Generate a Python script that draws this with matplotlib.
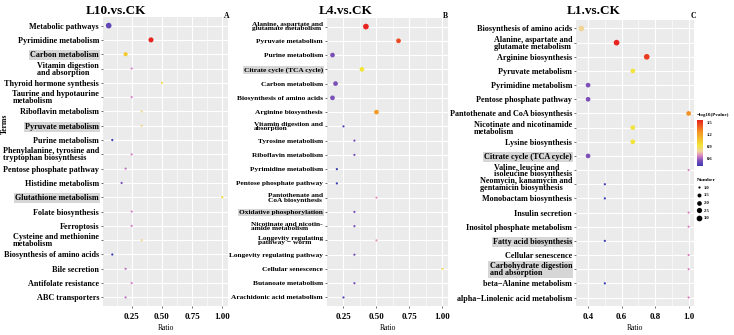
import numpy as np
import matplotlib
matplotlib.use('Agg')
import matplotlib.pyplot as plt
from matplotlib.colors import LinearSegmentedColormap, Normalize
from matplotlib.lines import Line2D

plt.rcParams['font.family'] = ['Liberation Serif', 'DejaVu Serif']
plt.rcParams['font.weight'] = 'bold'

# ---- data -------------------------------------------------------------
terms_a = ['Metabolic pathways', 'Pyrimidine metabolism', 'Carbon metabolism',
           'Vitamin digestion\nand absorption', 'Thyroid hormone synthesis',
           'Taurine and hypotaurine\nmetabolism', 'Riboflavin metabolism',
           'Pyruvate metabolism', 'Purine metabolism',
           'Phenylalanine, tyrosine and\ntryptophan biosynthesis',
           'Pentose phosphate pathway', 'Histidine metabolism',
           'Glutathione metabolism', 'Folate biosynthesis', 'Ferroptosis',
           'Cysteine and methionine\nmetabolism', 'Biosynthesis of amino acids',
           'Bile secretion', 'Antifolate resistance', 'ABC transporters']
ratio_a = [0.06, 0.41, 0.20, 0.25, 0.50, 0.25, 0.333, 0.333, 0.09, 0.25,
           0.20, 0.167, 1.0, 0.25, 0.25, 0.333, 0.09, 0.20, 0.25, 0.20]
logp_a = [0.38, 1.50, 0.95, 0.56, 0.80, 0.56, 0.70, 0.70, 0.30, 0.56,
          0.53, 0.44, 0.86, 0.56, 0.56, 0.70, 0.30, 0.53, 0.56, 0.53]
num_a = [4, 3, 2, 1, 1, 1, 1, 1, 1, 1, 1, 1, 1, 1, 1, 1, 1, 1, 1, 1]
hl_a = ['Carbon metabolism', 'Pyruvate metabolism', 'Glutathione metabolism']

terms_b = ['Alanine, aspartate and\nglutamate metabolism', 'Pyruvate metabolism',
           'Purine metabolism', 'Citrate cycle (TCA cycle)', 'Carbon metabolism',
           'Biosynthesis of amino acids', 'Arginine biosynthesis',
           'Vitamin digestion and\nabsorption', 'Tyrosine metabolism',
           'Riboflavin metabolism', 'Pyrimidine metabolism',
           'Pentose phosphate pathway', 'Pantothenate and\nCoA biosynthesis',
           'Oxidative phosphorylation', 'Nicotinate and nicotin-\namide metabolism',
           'Longevity regulating\npathway \u2212 worm', 'Longevity regulating pathway',
           'Cellular senescence', 'Butanoate metabolism',
           'Arachidonic acid metabolism']
ratio_b = [0.42, 0.667, 0.167, 0.39, 0.19, 0.167, 0.50, 0.25, 0.333, 0.333,
           0.20, 0.20, 0.50, 0.333, 0.333, 0.50, 0.333, 1.0, 0.333, 0.25]
logp_b = [1.50, 1.40, 0.44, 0.84, 0.44, 0.44, 1.16, 0.35, 0.44, 0.44,
          0.30, 0.30, 0.59, 0.44, 0.44, 0.59, 0.44, 0.78, 0.44, 0.35]
num_b = [3, 2, 2, 2, 2, 2, 2, 1, 1, 1, 1, 1, 1, 1, 1, 1, 1, 1, 1, 1]
hl_b = ['Citrate cycle (TCA cycle)', 'Oxidative phosphorylation']

terms_c = ['Biosynthesis of amino acids', 'Alanine, aspartate and\nglutamate metabolism',
           'Arginine biosynthesis', 'Pyruvate metabolism', 'Pyrimidine metabolism',
           'Pentose phosphate pathway', 'Pantothenate and CoA biosynthesis',
           'Nicotinate and nicotinamide\nmetabolism', 'Lysine biosynthesis',
           'Citrate cycle (TCA cycle)', 'Valine, leucine and\nisoleucine biosynthesis',
           'Neomycin, kanamycin and\ngentamicin biosynthesis', 'Monobactam biosynthesis',
           'Insulin secretion', 'Inositol phosphate metabolism',
           'Fatty acid biosynthesis', 'Cellular senescence',
           'Carbohydrate digestion\nand absorption', 'beta\u2212Alanine metabolism',
           'alpha\u2212Linolenic acid metabolism']
ratio_c = [0.36, 0.57, 0.75, 0.667, 0.40, 0.40, 1.0, 0.667, 0.667, 0.40,
           1.0, 0.50, 0.50, 1.0, 1.0, 0.50, 1.0, 1.0, 0.50, 1.0]
logp_c = [0.79, 1.57, 1.50, 0.93, 0.55, 0.55, 1.28, 0.93, 0.93, 0.55,
          0.665, 0.41, 0.41, 0.665, 0.665, 0.41, 0.665, 0.665, 0.41, 0.665]
num_c = [3, 3, 3, 2, 2, 2, 2, 2, 2, 2, 1, 1, 1, 1, 1, 1, 1, 1, 1, 1]
hl_c = ['Citrate cycle (TCA cycle)', 'Fatty acid biosynthesis',
        'Carbohydrate digestion\nand absorption']

titles = ['L10.vs.CK', 'L4.vs.CK', 'L1.vs.CK']
letters = ['A', 'B', 'C']

cmap = LinearSegmentedColormap.from_list('pv', [
    (0.00, '#3c3cb4'), (0.12, '#7e50b8'), (0.22, '#d884c4'),
    (0.32, '#f0d49a'), (0.45, '#f2e438'), (0.75, '#f39224'), (1.00, '#e82320')])

W, H = 734, 335
fig = plt.figure(figsize=(W / 100, H / 100), dpi=100)


def px_axes(l, t, r, b):
    return fig.add_axes([l / W, 1 - b / H, (r - l) / W, (b - t) / H])


def dot_size(n, lo, hi):
    d = 1.6 + 0.5 * 5 * np.sqrt((np.asarray(n, float) - lo) / (hi - lo))
    return d ** 2


def panel(ax, terms, ratio, logp, num, hl, xticks, xlabels, minor, fs):
    n = len(terms)
    y = np.arange(n)[::-1]
    ax.set_facecolor('#ebebeb')
    norm = Normalize(min(logp), max(logp))
    ax.scatter(ratio, y, s=dot_size(num, min(num), max(num)), c=logp,
               cmap=cmap, norm=norm, linewidths=0, zorder=3)
    lo, hi = min(ratio), max(ratio)
    pad = 0.05 * (hi - lo)
    ax.set_xlim(lo - pad, hi + pad)
    ax.set_ylim(-0.6, n - 0.4)
    ax.set_yticks(y)
    ax.set_yticklabels(terms, fontsize=fs, linespacing=0.85)
    ax.set_xticks(xticks)
    ax.set_xticklabels(xlabels, fontsize=6.4)
    ax.set_xticks(minor, minor=True)
    ax.grid(True, which='major', color='white', lw=0.8, zorder=0)
    ax.grid(True, which='minor', axis='x', color='white', lw=0.4, zorder=0)
    ax.set_axisbelow(True)
    for s in ax.spines.values():
        s.set_visible(False)
    ax.tick_params(axis='y', which='major', length=1.6, width=0.5,
                   color='#333333', pad=1.2)
    ax.tick_params(axis='x', which='major', length=1.6, width=0.5,
                   color='#333333', pad=3.2)
    ax.tick_params(axis='x', which='minor', length=0)
    for lab in ax.get_yticklabels():
        lab.set_multialignment('left')
        if lab.get_text() in hl:
            lab.set_bbox(dict(facecolor='#d6d6d6', edgecolor='none', pad=0.8))
    ax.set_xlabel('Ratio', fontsize=5.5, labelpad=2.5)
    return norm


ax_a = px_axes(103, 17, 228, 306)
panel(ax_a, terms_a, ratio_a, logp_a, num_a, hl_a,
      [0.25, 0.5, 0.75, 1.0], ['0.25', '0.50', '0.75', '1.00'],
      [0.125, 0.375, 0.625, 0.875], 5.9)

ax_b = px_axes(327, 18, 448, 306)
panel(ax_b, terms_b, ratio_b, logp_b, num_b, hl_b,
      [0.25, 0.5, 0.75, 1.0], ['0.25', '0.50', '0.75', '1.00'],
      [0.375, 0.625, 0.875], 5.3)

ax_c = px_axes(576, 20, 694, 306)
norm_c = panel(ax_c, terms_c, ratio_c, logp_c, num_c, hl_c,
               [0.4, 0.6, 0.8, 1.0], ['0.4', '0.6', '0.8', '1.0'],
               [0.5, 0.7, 0.9], 5.9)

fig.text(5 / W, 1 - 124 / H, 'Terms', rotation=90, fontsize=5.5,
         ha='center', va='center')

for t, x in zip(titles, [116, 346, 594]):
    fig.text(x / W, 1 - 11 / H, t, fontsize=9.5, ha='center', va='center')
for l, x in zip(letters, [227, 445, 693]):
    fig.text(x / W, 1 - 16 / H, l, fontsize=5.5, ha='center', va='center')

# colour bar legend
fig.text(697 / W, 1 - 115 / H, '\u2212log10(Pvalue)', fontsize=3.6,
         ha='left', va='center')
cax = px_axes(697, 120, 703, 166)
sm = plt.cm.ScalarMappable(norm=norm_c, cmap=cmap)
cb = fig.colorbar(sm, cax=cax, ticks=[0.6, 0.9, 1.2, 1.5])
cb.outline.set_visible(False)
cb.ax.tick_params(labelsize=3.3, length=1.2, width=0.4, color='white', pad=1.5)
cb.ax.set_yticklabels(['0.6', '0.9', '1.2', '1.5'])

# size legend
sizes = [1.0, 1.5, 2.0, 2.5, 3.0]
handles = [Line2D([], [], marker='o', ls='', color='black',
                  markersize=np.sqrt(dot_size(v, 1, 3)), markeredgewidth=0)
           for v in sizes]
leg = ax_c.legend(handles, ['%.1f' % v for v in sizes], title='Number',
                  loc='upper left', bbox_to_anchor=(694 / W, 1 - 175 / H),
                  bbox_transform=fig.transFigure, frameon=False,
                  fontsize=3.3, title_fontsize=3.8, labelspacing=0.75,
                  handlelength=0.8, handletextpad=0.6, borderpad=0.2,
                  alignment='left')

fig.savefig('out.png', dpi=100)
